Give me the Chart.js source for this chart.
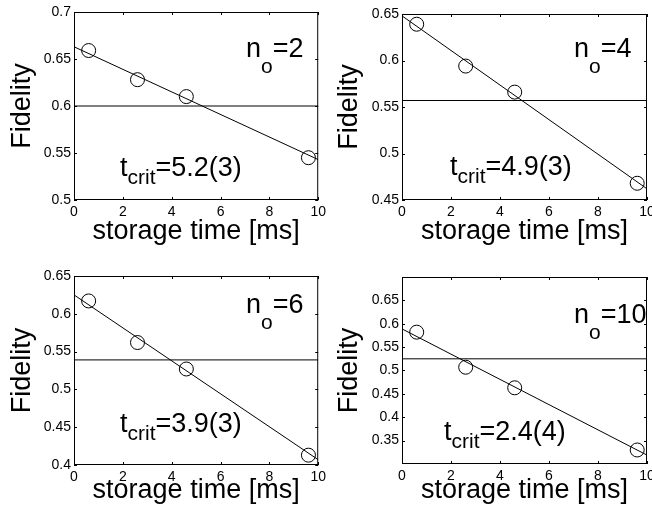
<!DOCTYPE html>
<html>
<head>
<meta charset="utf-8">
<script src="https://cdn.jsdelivr.net/npm/chart.js@4/dist/chart.umd.min.js"></script>
<style>
  html, body { margin: 0; padding: 0; background: #fff; overflow: hidden; }
  #wrap { position: relative; width: 652px; height: 517px; overflow: hidden; }
  canvas { position: absolute; }
</style>
</head>
<body>
<div id="wrap">
  <canvas id="c0"></canvas>
  <canvas id="c1"></canvas>
  <canvas id="c2"></canvas>
  <canvas id="c3"></canvas>
</div>
<script>
'use strict';

// storage times of the four measurements [ms]
var storageTimes = [0.6, 2.6, 4.6, 9.6];

// measured fidelity for each photon number
var fidelityN2  = [0.659, 0.628, 0.610, 0.545];
var fidelityN4  = [0.639, 0.594, 0.566, 0.468];
var fidelityN6  = [0.617, 0.562, 0.527, 0.413];
var fidelityN10 = [0.582, 0.507, 0.463, 0.330];

// linear fits, value at t = 0 ms and t = 10 ms
var fitTimes = [0, 10];
var fitN2  = [0.663, 0.543];
var fitN4  = [0.648, 0.462];
var fitN6  = [0.625, 0.407];
var fitN10 = [0.589, 0.319];

// classical fidelity limit
var limitN2  = [0.600, 0.600];
var limitN4  = [0.557, 0.557];
var limitN6  = [0.539, 0.539];
var limitN10 = [0.525, 0.525];

var photonNumbers = ['2', '4', '6', '10'];
var critTimes = ['5.2(3)', '4.9(3)', '3.9(3)', '2.4(4)'];

var xTicks = [0, 2, 4, 6, 8, 10];
var yTicksN2  = [0.5, 0.55, 0.6, 0.65, 0.7];
var yTicksN4  = [0.45, 0.5, 0.55, 0.6, 0.65];
var yTicksN6  = [0.4, 0.45, 0.5, 0.55, 0.6, 0.65];
var yTicksN10 = [0.35, 0.4, 0.45, 0.5, 0.55, 0.6, 0.65];

var yLimitsN2  = [0.5, 0.7];
var yLimitsN4  = [0.45, 0.65];
var yLimitsN6  = [0.4, 0.65];
var yLimitsN10 = [0.3, 0.7];

var FONT = '"Liberation Sans", Arial, Helvetica, sans-serif';
Chart.defaults.font.family = FONT;
Chart.defaults.color = '#000';

var panels = [
  { fid: fidelityN2,  fit: fitN2,  limit: limitN2,  yTicks: yTicksN2,  yLim: yLimitsN2,
    box: [0, 0, 330, 258],   axisW: 74, axisH: 58, padTop: 12, padRight: 10, yTitlePad: 9,
    nPos: [172, 45], tPos: [46, 164] },
  { fid: fidelityN4,  fit: fitN4,  limit: limitN4,  yTicks: yTicksN4,  yLim: yLimitsN4,
    box: [330, 0, 330, 258], axisW: 72, axisH: 58, padTop: 14, padRight: 13, yTitlePad: 6,
    nPos: [172, 43], tPos: [48, 161] },
  { fid: fidelityN6,  fit: fitN6,  limit: limitN6,  yTicks: yTicksN6,  yLim: yLimitsN6,
    box: [0, 258, 330, 259], axisW: 74, axisH: 52, padTop: 18, padRight: 10, yTitlePad: 9,
    nPos: [172, 37], tPos: [46, 156] },
  { fid: fidelityN10, fit: fitN10, limit: limitN10, yTicks: yTicksN10, yLim: yLimitsN10,
    box: [330, 258, 330, 259], axisW: 72, axisH: 53, padTop: 19, padRight: 13, yTitlePad: 6,
    nPos: [172, 46], tPos: [42, 163] }
];

// box frame with short inward ticks on all four sides
var framePlugin = {
  id: 'frame',
  afterDatasetsDraw: function (chart) {
    var ctx = chart.ctx, a = chart.chartArea;
    var xs = chart.scales.x, ys = chart.scales.y;
    var len = 3;
    ctx.save();
    ctx.strokeStyle = '#000';
    ctx.lineWidth = 1;
    ctx.strokeRect(a.left + 0.5, a.top + 0.5, a.right - a.left - 1, a.bottom - a.top - 1);
    ctx.beginPath();
    xs.ticks.forEach(function (t) {
      var px = Math.round(xs.getPixelForValue(t.value)) + 0.5;
      ctx.moveTo(px, a.bottom); ctx.lineTo(px, a.bottom - len);
      ctx.moveTo(px, a.top); ctx.lineTo(px, a.top + len);
    });
    ys.ticks.forEach(function (t) {
      var py = Math.round(ys.getPixelForValue(t.value)) + 0.5;
      ctx.moveTo(a.left, py); ctx.lineTo(a.left + len, py);
      ctx.moveTo(a.right, py); ctx.lineTo(a.right - len, py);
    });
    ctx.stroke();
    ctx.restore();
  }
};

// text with one subscript: main, sub, rest
function drawSubText(ctx, x, y, main, sub, rest, subDrop) {
  ctx.font = '27px ' + FONT;
  ctx.fillText(main, x, y);
  x += ctx.measureText(main).width;
  ctx.font = '21px ' + FONT;
  ctx.fillText(sub, x, y + subDrop);
  x += ctx.measureText(sub).width;
  ctx.font = '27px ' + FONT;
  ctx.fillText(rest, x, y);
}

var labelPlugin = {
  id: 'labels',
  afterDraw: function (chart) {
    var p = chart.options.plugins.labels;
    var ctx = chart.ctx, a = chart.chartArea;
    ctx.save();
    ctx.fillStyle = '#000';
    ctx.textBaseline = 'alphabetic';
    ctx.textAlign = 'left';
    drawSubText(ctx, a.left + p.nPos[0], a.top + p.nPos[1], 'n', 'o', '=' + p.n, 16);
    drawSubText(ctx, a.left + p.tPos[0], a.top + p.tPos[1], 't', 'crit', '=' + p.t, 8);
    ctx.restore();
  }
};

function points(xs, ys) {
  return xs.map(function (x, i) { return { x: x, y: ys[i] }; });
}

function fixTicks(values) {
  return function (scale) {
    scale.ticks = values.map(function (v) { return { value: v }; });
  };
}

panels.forEach(function (p, i) {
  var canvas = document.getElementById('c' + i);
  canvas.width = p.box[2];
  canvas.height = p.box[3];
  canvas.style.left = p.box[0] + 'px';
  canvas.style.top = p.box[1] + 'px';

  new Chart(canvas.getContext('2d'), {
    type: 'scatter',
    data: {
      datasets: [
        {
          data: points(storageTimes, p.fid),
          showLine: false,
          pointStyle: 'circle',
          pointRadius: 7,
          pointBorderWidth: 1,
          borderColor: '#000',
          backgroundColor: 'rgba(0,0,0,0)',
          clip: false
        },
        {
          data: points(fitTimes, p.fit),
          showLine: true,
          pointRadius: 0,
          borderColor: '#000',
          borderWidth: 1
        },
        {
          data: points(fitTimes, p.limit),
          showLine: true,
          pointRadius: 0,
          borderColor: '#000',
          borderWidth: 1
        }
      ]
    },
    options: {
      responsive: false,
      animation: false,
      events: [],
      layout: { padding: { top: p.padTop, right: p.padRight, bottom: 0, left: 0 } },
      plugins: {
        legend: { display: false },
        tooltip: { enabled: false },
        labels: { n: photonNumbers[i], t: critTimes[i], nPos: p.nPos, tPos: p.tPos }
      },
      scales: {
        x: {
          type: 'linear',
          position: 'bottom',
          min: 0,
          max: 10,
          afterBuildTicks: fixTicks(xTicks),
          afterFit: function (scale) { scale.height = p.axisH; },
          grid: { display: false, drawTicks: false },
          border: { display: false },
          ticks: { font: { size: 14 }, color: '#000', padding: 4, maxRotation: 0,
                   callback: function (v) { return String(v); } },
          title: { display: true, text: 'storage time [ms]', color: '#000',
                   font: { size: 27, lineHeight: 1 }, padding: { top: 0, bottom: 13 } }
        },
        y: {
          type: 'linear',
          position: 'left',
          min: p.yLim[0],
          max: p.yLim[1],
          afterBuildTicks: fixTicks(p.yTicks),
          afterFit: function (scale) { scale.width = p.axisW; },
          grid: { display: false, drawTicks: false },
          border: { display: false },
          ticks: { font: { size: 14 }, color: '#000', padding: 3,
                   callback: function (v) { return String(+v.toFixed(2)); } },
          title: { display: true, text: 'Fidelity', color: '#000',
                   font: { size: 27, lineHeight: 1 }, padding: { top: p.yTitlePad, bottom: 0 } }
        }
      }
    },
    plugins: [framePlugin, labelPlugin]
  });
});
</script>
</body>
</html>
